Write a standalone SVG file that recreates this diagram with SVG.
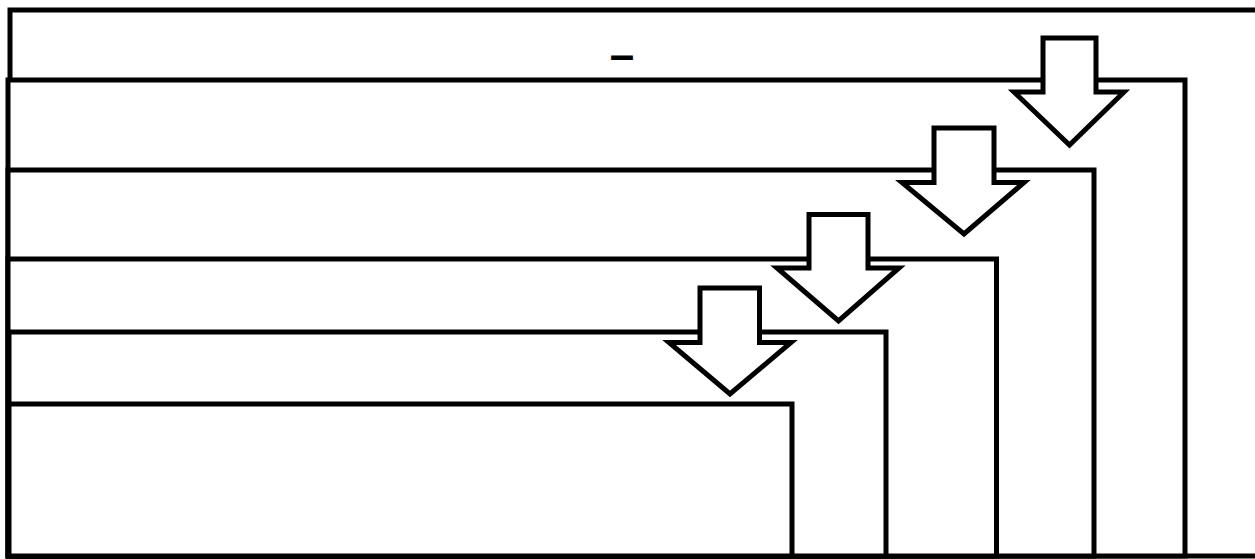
<svg xmlns="http://www.w3.org/2000/svg" width="1255" height="559" viewBox="0 0 1255 559">
<style>
.box{fill:#fff;stroke:#000;stroke-width:5}
.arr{fill:#fff;stroke:#000;stroke-width:5;stroke-linejoin:miter}
.lbl{font-family:"Liberation Sans",Arial,sans-serif;font-size:44px;font-weight:bold;fill:#000}
</style>
<rect width="1255" height="559" fill="#fff"/>
<g id="level1"><rect class="box" x="10" y="10" width="1260" height="546"/>
<text class="lbl" x="622" y="70" text-anchor="middle">–</text></g>
<g id="level2"><rect class="box" x="8" y="80" width="1177" height="476"/></g>
<g id="level3"><rect class="box" x="8" y="170" width="1086" height="386"/></g>
<g id="level4"><rect class="box" x="8" y="259" width="988.5" height="297"/></g>
<g id="level5"><rect class="box" x="9" y="332" width="877" height="224"/></g>
<g id="level6"><rect class="box" x="9" y="404" width="783" height="152"/></g>
<g id="connectors">
<polygon class="arr" points="1043,38 1096,38 1096,92 1124,92 1069.5,145 1014,92 1043,92"/>
<polygon class="arr" points="934,128 994,128 994,182.5 1024,182.5 964,234 902,182.5 934,182.5"/>
<polygon class="arr" points="809,214.5 868,214.5 868,268 899,268 838.5,321 777,268 809,268"/>
<polygon class="arr" points="700,288 759.5,288 759.5,342.5 791,342.5 730,394 669,342.5 700,342.5"/>
</g>
</svg>
